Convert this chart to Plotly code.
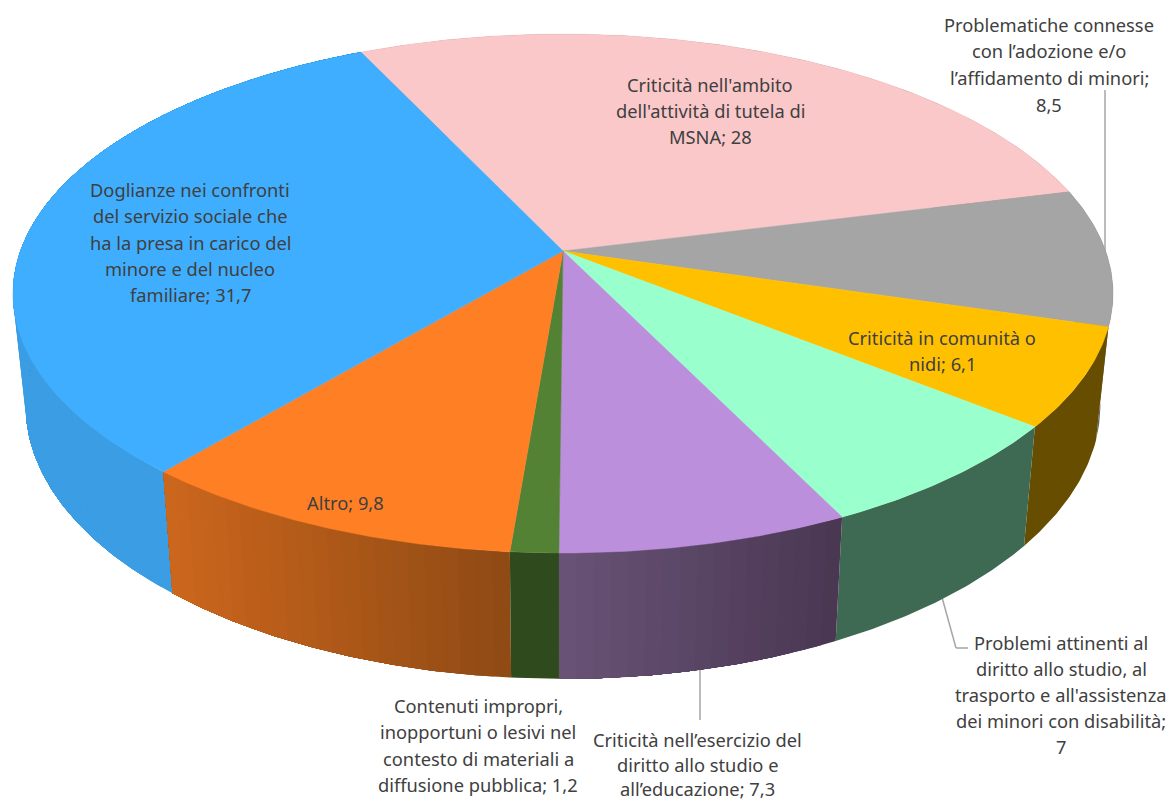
import numpy as np
import plotly.graph_objects as go

# ---- data, clockwise from the pink slice ----
categories = [
    "Criticità nell'ambito dell'attività di tutela di MSNA",
    "Problematiche connesse con l’adozione e/o l’affidamento di minori",
    "Criticità in comunità o nidi",
    "Problemi attinenti al diritto allo studio, al trasporto e all'assistenza dei minori con disabilità",
    "Criticità nell’esercizio del diritto allo studio e all’educazione",
    "Contenuti impropri, inopportuni o lesivi nel contesto di materiali a diffusione pubblica",
    "Altro",
    "Doglianze nei confronti del servizio sociale che ha la presa in carico del minore e del nucleo familiare",
]
values = [28, 8.5, 6.1, 7, 7.3, 1.2, 9.8, 31.7]
top_colors = ["#FBC8CA", "#A5A5A5", "#FFC000", "#99FFCC", "#BB8FDC", "#548235", "#FF7F24", "#3FAEFF"]
wall_left = ["#996F70", "#636363", "#664D00", "#3E6A53", "#695376", "#2F4A1C", "#CC661D", "#3B9DE3"]
wall_right = ["#996F70", "#636363", "#664D00", "#3E6A53", "#493752", "#2F4A1C", "#8E4A14", "#338BCB"]
label_lines = [
    ["Criticità nell'ambito", "dell'attività di tutela di", "MSNA; 28"],
    ["Problematiche connesse", "con l’adozione e/o", "l’affidamento di minori;", "8,5"],
    ["Criticità in comunità o", "nidi; 6,1"],
    ["Problemi attinenti al", "diritto allo studio, al", "trasporto e all'assistenza", "dei minori con disabilità;", "7"],
    ["Criticità nell’esercizio del", "diritto allo studio e", "all’educazione; 7,3"],
    ["Contenuti impropri,", "inopportuni o lesivi nel", "contesto di materiali a", "diffusione pubblica; 1,2"],
    ["Altro; 9,8"],
    ["Doglianze nei confronti", "del servizio sociale che", "ha la presa in carico del", "minore e del nucleo", "familiare; 31,7"],
]
label_x = [710, 1049, 942, 1061, 697, 478, 345, 190]
label_y = [
    [84, 110, 136],
    [24, 50, 77, 104],
    [337, 363],
    [642, 668, 694, 720, 746],
    [739, 764, 788.5],
    [705, 731, 758, 784],
    [502],
    [189, 215, 242, 268, 294],
]

# ---- projection of the tilted disc onto the page ----
CX, CY, A, B, K = 563, 251, 542.6, 252.5, 0.1638
START = np.radians(-25.3)
XS, YS, Y0 = 0.977, 1.054, 360.6


def top_xy(t):
    u, v = np.sin(t), np.cos(t)
    w = 1 + K * v
    return CX + A * u / w, CY - B * v / w


def bottom_xy(t):
    x, y = top_xy(t)
    return CX + XS * (x - CX), Y0 + YS * (y - CY)


def mix(c1, c2, f):
    a = [int(c1[i:i + 2], 16) for i in (1, 3, 5)]
    b = [int(c2[i:i + 2], 16) for i in (1, 3, 5)]
    return "rgb(%d,%d,%d)" % tuple(round(p + (q - p) * f) for p, q in zip(a, b))


shares = np.array(values, dtype=float) / sum(values) * 2 * np.pi
edges = START + np.concatenate([[0], np.cumsum(shares)])

fig = go.Figure()

# side walls: slices back to front; inside a slice each band runs on to the
# slice's end and the next band paints over it, which leaves no seams
order = sorted(range(len(values)), key=lambda i: top_xy(edges[i])[1] + top_xy(edges[i + 1])[1])
for i in order:
    flat = wall_left[i] == wall_right[i]
    n = 1 if flat else max(2, int(np.degrees(shares[i]) / 1.5))
    ts = np.linspace(edges[i], edges[i + 1], n + 1)
    xa, xb = top_xy(edges[i])[0], top_xy(edges[i + 1])[0]
    fine = np.linspace(edges[i], edges[i + 1], max(8, int(np.degrees(shares[i]) / 0.5)) + 1)
    for j in range(n):
        arc = np.r_[ts[j], fine[fine > ts[j]]]
        tx, ty = top_xy(arc)
        bx, by = bottom_xy(arc[::-1])
        xm = top_xy((ts[j] + ts[j + 1]) / 2)[0]
        f = np.clip((xm - min(xa, xb)) / abs(xb - xa), 0, 1)
        col = mix(wall_left[i], wall_right[i], f)
        fig.add_trace(go.Scatter(x=np.r_[tx, bx, tx[0]], y=np.r_[ty, by, ty[0]], mode="lines", fill="toself",
                                 fillcolor=col, line=dict(width=0, color=col), hoverinfo="skip", showlegend=False))

for i in range(len(values)):
    n = max(8, int(np.degrees(shares[i]) / 0.5))
    ts = np.linspace(edges[i], edges[i + 1], n + 1)
    ax, ay = top_xy(ts)
    fig.add_trace(go.Scatter(x=np.r_[CX, ax, CX], y=np.r_[CY, ay, CY], mode="lines", fill="toself",
                             fillcolor=top_colors[i], line=dict(color=top_colors[i], width=0.5),
                             name=categories[i], hoverinfo="name", showlegend=False))

# leader lines sit under the pie
leaders = [
    ([1105, 1105], [90, 290]),
    ([700, 700], [660, 720]),
    ([940, 956, 968], [590, 648, 648]),
]
shapes = []
for xs, ys in leaders:
    for k in range(len(xs) - 1):
        shapes.append(dict(type="line", xref="x", yref="y", x0=xs[k], x1=xs[k + 1], y0=ys[k], y1=ys[k + 1],
                           line=dict(color="#A6A6A6", width=1.5), layer="below"))

annotations = []
for lines, x, ys in zip(label_lines, label_x, label_y):
    for text, y in zip(lines, ys):
        annotations.append(dict(x=x, y=y, xref="x", yref="y", text=text, showarrow=False,
                                xanchor="center", yanchor="middle",
                                font=dict(family="Noto Sans", size=18.3, color="#404040")))

fig.update_layout(
    width=1171, height=801, margin=dict(l=0, r=0, t=0, b=0),
    paper_bgcolor="white", plot_bgcolor="white", showlegend=False,
    xaxis=dict(range=[0, 1171], visible=False, fixedrange=True),
    yaxis=dict(range=[801, 0], visible=False, fixedrange=True),
    shapes=shapes, annotations=annotations,
)
fig.write_html("out.html", config={"displayModeBar": False},
               post_script="document.body.style.margin='0';document.body.style.overflow='hidden';")
